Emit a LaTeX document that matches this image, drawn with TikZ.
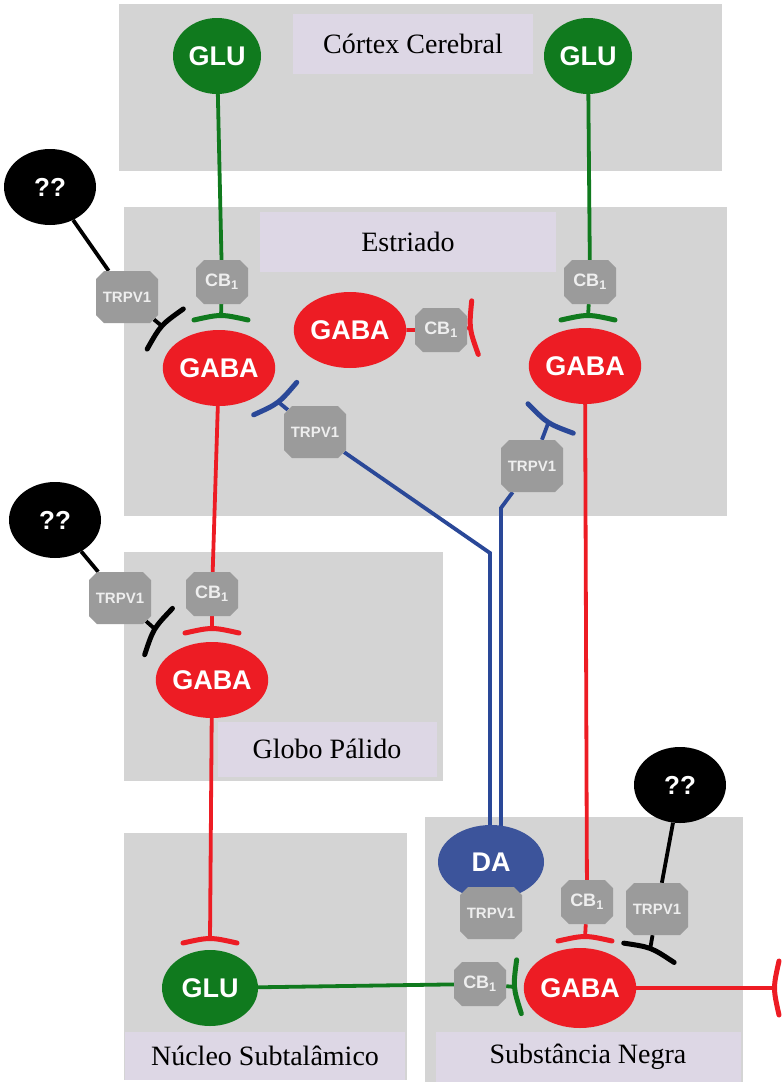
\documentclass[tikz,border=0pt]{standalone}
\usepackage{fontspec}
\setmainfont{Liberation Serif}
\setsansfont{Liberation Sans}
\usepackage{xcolor}
\usepackage{tikz}
\usetikzlibrary{shapes,arrows,positioning,backgrounds}

\definecolor{glugreen}{RGB}{16,122,30}
\definecolor{gabared}{RGB}{237,28,36}
\definecolor{dablue}{RGB}{60,84,155}
\definecolor{wireblue}{RGB}{42,72,152}
\definecolor{boxgray}{RGB}{212,212,212}
\definecolor{taglav}{RGB}{221,215,229}
\definecolor{recgray}{RGB}{155,155,155}
\definecolor{rectext}{RGB}{238,238,238}

\begin{document}
\begin{tikzpicture}[x=1pt, y=-1pt,
  tag/.style={fill=taglav, inner sep=0pt, font=\fontsize{28}{30}\selectfont},
  neuron/.style={ellipse, inner sep=0pt, minimum width=96pt, minimum height=76pt, text=white, font=\sffamily\bfseries\fontsize{27}{27}\selectfont},
  gaba/.style={neuron, fill=gabared},
  glu/.style={neuron, fill=glugreen, minimum width=88pt},
  unknown/.style={neuron, fill=black, minimum width=92pt, minimum height=76pt, font=\sffamily\bfseries\fontsize{26}{26}\selectfont},
  recep/.style={chamfered rectangle, chamfered rectangle xsep=4pt, chamfered rectangle ysep=4pt, fill=recgray, text=rectext, inner sep=0pt, minimum width=62pt, minimum height=52pt, font=\sffamily\bfseries\fontsize{15}{15}\selectfont},
  cb/.style={recep, minimum width=52pt, minimum height=44pt, font=\sffamily\bfseries\fontsize{18}{18}\selectfont},
  wire/.style={line width=3.8pt},
  tbar/.pic={\draw[line width=5pt, line cap=round] (-27,3) .. controls (0,-3) .. (27,3);}
]
\useasboundingbox (0,0) rectangle (782,1082);

% Regions
\begin{scope}[on background layer]
\fill[boxgray] (119,4) rectangle (722,171);
\fill[boxgray] (124,207) rectangle (727,516);
\fill[boxgray] (124,552) rectangle (443,781);
\fill[boxgray] (124,833) rectangle (407,1080);
\fill[boxgray] (425,817) rectangle (743,1082);
\end{scope}
\node[tag, minimum width=240pt, minimum height=60pt] (ctxlab) at (413,44) {Córtex Cerebral};
\node[tag, minimum width=296pt, minimum height=60pt] (strlab) at (408,242) {Estriado};
\node[tag, minimum width=219pt, minimum height=55pt] (gplab) at (327,749) {Globo Pálido};
\node[tag, minimum width=280pt, minimum height=48pt] (stnlab) at (265,1056) {Núcleo Subtalâmico};
\node[tag, minimum width=305pt, minimum height=50pt] (snlab) at (588,1057) {Substância Negra};

% Cortex
\node[glu] (gluL) at (217,56) {GLU};
\node[glu] (gluR) at (588,56) {GLU};
% Striatum
\node[gaba] (gabaL) at (219,368) {GABA};
\node[gaba, minimum width=100pt] (gabaM) at (350,330) {GABA};
\node[gaba] (gabaR) at (585,366) {GABA};
\node[cb] (cbL) at (222,282) {CB\textsubscript{1}};
\node[cb] (cbM) at (441,330) {CB\textsubscript{1}};
\node[cb] (cbR) at (590,282) {CB\textsubscript{1}};
\node[recep] (trA) at (127,297) {TRPV1};
\node[recep] (trC) at (315,432) {TRPV1};
\node[recep] (trD) at (532,466) {TRPV1};
\node[unknown] (qmA) at (50,187) {??};
% Globus pallidus
\node[gaba] (gabaGP) at (212,680) {GABA};
\node[cb] (cbGP) at (212,594) {CB\textsubscript{1}};
\node[recep] (trB) at (120,598) {TRPV1};
\node[unknown] (qmB) at (55,520) {??};
% Subthalamic nucleus
\node[glu, minimum width=96pt] (gluSTN) at (210,988) {GLU};
% Substantia nigra
\node[gaba, minimum width=100pt, minimum height=80pt] (gabaSN) at (580,988) {GABA};
\node[neuron, fill=dablue, minimum width=106pt, minimum height=74pt] (da) at (491,862) {DA};
\node[recep] (trE) at (491,913) {TRPV1};
\node[cb] (cbSN) at (587,902) {CB\textsubscript{1}};
\node[cb] (cbSTN) at (480,984) {CB\textsubscript{1}};
\node[recep] (trF) at (657,909) {TRPV1};
\node[unknown] (qmC) at (680,785) {??};

% Synapse ends
\coordinate (barL1) at (221,317);
\coordinate (barM) at (472,328);
\coordinate (barR) at (588,317);
\coordinate (barA) at (163,327);
\coordinate (barC) at (277,401);
\coordinate (barD) at (549,421);
\coordinate (barGP) at (212,630);
\coordinate (barB) at (156,630);
\coordinate (barSTN) at (210,940);
\coordinate (barSNl) at (516,987);
\coordinate (barSN) at (585,938);
\coordinate (barF) at (650,950);
\coordinate (barX) at (776,988);
\coordinate (bendC) at (490,553);
\coordinate (bendD) at (501,508);

% Connections
\begin{scope}[on background layer]
\draw[wire, glugreen] (gluL) -- (cbL) -- (barL1);
\draw[wire, glugreen] (gluR) -- (cbR) -- (barR);
\draw[wire, glugreen] (gluSTN) -- (cbSTN) -- (barSNl);
\draw[wire, gabared] (gabaM) -- (cbM) -- (barM);
\draw[wire, gabared] (gabaL) -- (cbGP) -- (barGP);
\draw[wire, gabared] (gabaGP) -- (barSTN);
\draw[wire, gabared] (gabaR) -- (cbSN) -- (barSN);
\draw[wire, gabared] (gabaSN) -- (barX);
\draw[wire, black] (qmA) -- (trA) -- (barA);
\draw[wire, black] (qmB) -- (trB) -- (barB);
\draw[wire, black] (qmC) -- (trF) -- (barF);
\draw[wire, wireblue] (barC) -- (trC) -- (bendC) -- (bendC |- da);
\draw[wire, wireblue] (barD) -- (trD) -- (bendD) -- (bendD |- da);
\end{scope}

% Inhibitory terminals
\pic[glugreen] at (barL1) {tbar};
\pic[glugreen] at (barR) {tbar};
\pic[glugreen, rotate=95] at (barSNl) {tbar};
\pic[gabared, rotate=97] at (barM) {tbar};
\pic[gabared] at (barGP) {tbar};
\pic[gabared] at (barSTN) {tbar};
\pic[gabared] at (barSN) {tbar};
\pic[gabared, rotate=90] at (barX) {tbar};
\pic[black, rotate=48] at (barA) {tbar};
\pic[black, rotate=59] at (barB) {tbar};
\pic[black, rotate=-21] at (barF) {tbar};
\pic[wireblue, rotate=-143] at (barC) {tbar};
\pic[wireblue, rotate=147] at (barD) {tbar};
\end{tikzpicture}
\end{document}
